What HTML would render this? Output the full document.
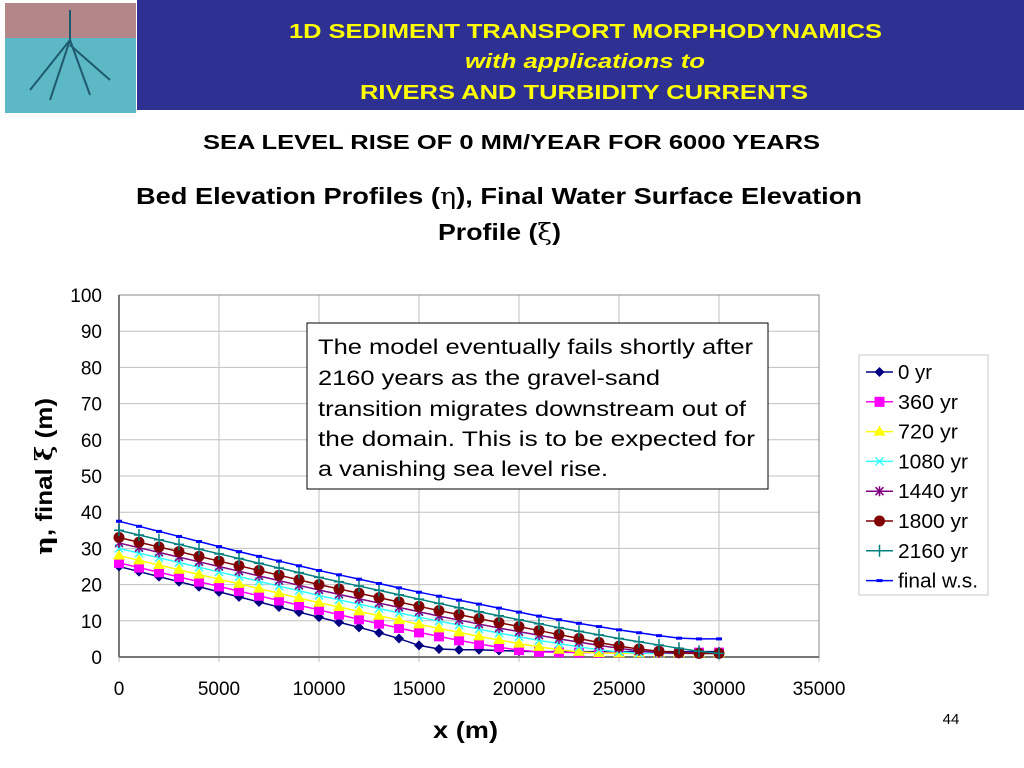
<!DOCTYPE html>
<html><head><meta charset="utf-8">
<style>
html,body{margin:0;padding:0;background:#fff;}
svg{display:block;}
</style></head>
<body>
<svg id="chart" width="1024" height="768" viewBox="0 0 1024 768" xmlns="http://www.w3.org/2000/svg" font-family="Liberation Sans, Arial, sans-serif">
  <rect x="5" y="3" width="131" height="110" fill="#5bb8c4"/>
  <rect x="5" y="3" width="131" height="35" fill="#c97a7a" opacity="0.8"/>
  <path d="M70 10 L70 40 L50 100 M70 40 L90 95 M70 40 L30 90 M70 45 L110 80" stroke="#1f5a70" stroke-width="2" fill="none"/>
  <rect x="137" y="0" width="887" height="110" fill="#2e3192"/>
  <text x="289" y="38" textLength="593" lengthAdjust="spacingAndGlyphs" fill="#ffff00" font-size="20" font-weight="bold">1D SEDIMENT TRANSPORT MORPHODYNAMICS</text>
  <text x="465" y="68" textLength="240" lengthAdjust="spacingAndGlyphs" fill="#ffff00" font-size="20" font-weight="bold" font-style="italic">with applications to</text>
  <text x="360" y="99" textLength="448" lengthAdjust="spacingAndGlyphs" fill="#ffff00" font-size="20" font-weight="bold">RIVERS AND TURBIDITY CURRENTS</text>
  <text x="203" y="149" textLength="617" lengthAdjust="spacingAndGlyphs" font-size="20" font-weight="bold">SEA LEVEL RISE OF 0 MM/YEAR FOR 6000 YEARS</text>
  <text x="136" y="204" textLength="726" lengthAdjust="spacingAndGlyphs" font-size="23" font-weight="bold">Bed Elevation Profiles (<tspan font-family="DejaVu Serif, serif" font-weight="normal">η</tspan>), Final Water Surface Elevation</text>
  <text x="438" y="240" textLength="123" lengthAdjust="spacingAndGlyphs" font-size="23" font-weight="bold">Profile (<tspan font-family="DejaVu Serif, serif" font-weight="normal">ξ</tspan>)</text>
  <g id="grid"></g>
  <g id="axes"></g>
  <g id="series"></g>
  <text transform="translate(52,555) rotate(-90)" textLength="157" lengthAdjust="spacingAndGlyphs" font-size="23" font-weight="bold"><tspan font-family="DejaVu Serif, serif">η</tspan>, final <tspan font-family="DejaVu Serif, serif">ξ</tspan> (m)</text>
  <text x="433" y="738" textLength="65" lengthAdjust="spacingAndGlyphs" font-size="23" font-weight="bold">x (m)</text>
  <text x="951" y="724" text-anchor="middle" font-size="15">44</text>
  <g>
    <rect x="307" y="323" width="461" height="166" fill="#fff" stroke="#000" stroke-width="1"/>
    <text font-size="21" fill="#000">
      <tspan x="318" y="354" textLength="435" lengthAdjust="spacingAndGlyphs">The model eventually fails shortly after</tspan>
      <tspan x="318" y="385" textLength="342" lengthAdjust="spacingAndGlyphs">2160 years as the gravel-sand</tspan>
      <tspan x="318" y="416" textLength="428" lengthAdjust="spacingAndGlyphs">transition migrates downstream out of</tspan>
      <tspan x="318" y="446" textLength="437" lengthAdjust="spacingAndGlyphs">the domain.  This is to be expected for</tspan>
      <tspan x="318" y="476" textLength="290" lengthAdjust="spacingAndGlyphs">a vanishing sea level rise.</tspan>
    </text>
  </g>
  <g id="legend"></g>
</svg>
<script>
const xTicks = [0,5000,10000,15000,20000,25000,30000,35000];
const yTicks = [0,10,20,30,40,50,60,70,80,90,100];
const xs = [0,1000,2000,3000,4000,5000,6000,7000,8000,9000,10000,11000,12000,13000,14000,15000,16000,17000,18000,19000,20000,21000,22000,23000,24000,25000,26000,27000,28000,29000,30000];
const yr0 = [25,23.6,22.2,20.8,19.4,18.0,16.6,15.2,13.8,12.4,11.0,9.6,8.2,6.7,5.1,3.2,2.2,2.0,2.0,1.8,1.6,1.5,1.5,1.5,1.5,1.5,1.5,1.5,1.5,1.5,1.5];
const yr360 = [26,24.7,23.4,22.1,20.8,19.5,18.2,16.9,15.6,14.3,13.0,11.7,10.4,9.2,8.0,6.8,5.7,4.6,3.6,2.7,1.9,1.4,1.3,1.2,1.2,1.2,1.2,1.2,1.2,1.2,1.2];
const yr720 = [28,26.7,25.4,24.1,22.8,21.5,20.2,18.9,17.6,16.3,15.0,13.8,12.6,11.4,10.2,9.0,7.9,6.8,5.7,4.7,3.7,2.8,2.0,1.4,1.1,1.0,1.0,1.0,1.0,1.0,1.0];
const yr1080 = [30,28.7,27.4,26.1,24.8,23.5,22.2,20.9,19.6,18.3,17.0,15.8,14.6,13.4,12.2,11.0,9.9,8.8,7.7,6.6,5.6,4.6,3.7,2.8,2.0,1.4,1.0,1.0,1.0,1.0,1.0];
const yr1440 = [31.5,30.2,28.9,27.6,26.3,25.0,23.7,22.4,21.1,19.8,18.5,17.3,16.1,14.9,13.7,12.5,11.3,10.2,9.1,8.0,7.0,6.0,5.0,4.1,3.2,2.4,1.7,1.2,1.0,1.0,1.0];
const yr1800 = [33,31.7,30.4,29.1,27.8,26.5,25.2,23.9,22.6,21.3,20.0,18.8,17.6,16.4,15.2,14.0,12.8,11.7,10.6,9.5,8.4,7.3,6.2,5.1,4.0,3.0,2.2,1.6,1.2,1.0,1.0];
const yr2160 = [35,33.7,32.4,31.1,29.8,28.5,27.2,25.9,24.6,23.3,22.0,20.8,19.6,18.4,17.2,16.0,14.8,13.6,12.5,11.4,10.3,9.2,8.1,7.1,6.1,5.1,4.2,3.3,2.4,1.6,1.0];
const finalWS = [37.5,36.1,34.7,33.3,31.9,30.5,29.1,27.8,26.5,25.2,23.9,22.7,21.5,20.3,19.1,17.9,16.8,15.7,14.6,13.5,12.4,11.3,10.3,9.3,8.4,7.5,6.7,5.9,5.2,5.0,5.0];

const X0=119, X1=819, Y0=657, Y1=295;
const sx = v => X0 + (v/35000)*(X1-X0);
const sy = v => Y0 - (v/100)*(Y0-Y1);
const NS='http://www.w3.org/2000/svg';
function mk(tag, attrs, parent){const e=document.createElementNS(NS,tag);for(const k in attrs)e.setAttribute(k,attrs[k]);parent.appendChild(e);return e;}

const grid=document.getElementById('grid'), axes=document.getElementById('axes');
yTicks.forEach(t=>{
  const l=mk('line',{x1:X0,x2:X1,y1:sy(t),y2:sy(t),stroke:'#c0c0c0','stroke-width':1},grid);
  
  
  const tk=mk('text',{x:X0-17,y:sy(t)+7,'text-anchor':'end','font-size':19},axes);
  tk.textContent=t;
  
  
});
xTicks.forEach(t=>{
  const l=mk('line',{x1:sx(t),x2:sx(t),y1:Y1,y2:Y0+5,stroke:'#c0c0c0','stroke-width':1},grid);
  
  
  const tk=mk('text',{x:sx(t),y:Y0+38,'text-anchor':'middle','font-size':19},axes);
  tk.textContent=t;
  
  
});
const frame=mk('rect',{x:X0,y:Y1,width:X1-X0,height:Y0-Y1,fill:'none',stroke:'#888','stroke-width':1},axes);


const xa=mk('line',{x1:X0,x2:X1,y1:Y0,y2:Y0,stroke:'#777','stroke-width':2},axes);


const ya=mk('line',{x1:X0,x2:X0,y1:Y1,y2:Y0,stroke:'#777','stroke-width':2},axes);



function marker(type,x,y,c,g){
  switch(type){
    case 'diamond': return mk('path',{d:`M${x} ${y-5}L${x+5} ${y}L${x} ${y+5}L${x-5} ${y}Z`,fill:c},g);
    case 'square': return mk('rect',{x:x-5,y:y-5,width:10,height:10,fill:c},g);
    case 'tri': return mk('path',{d:`M${x} ${y-6}L${x+6} ${y+4}L${x-6} ${y+4}Z`,fill:c},g);
    case 'x': return mk('path',{d:`M${x-4} ${y-4}L${x+4} ${y+4}M${x-4} ${y+4}L${x+4} ${y-4}`,stroke:c,'stroke-width':1.5},g);
    case 'star': return mk('path',{d:`M${x-4} ${y-4}L${x+4} ${y+4}M${x-4} ${y+4}L${x+4} ${y-4}M${x} ${y-5}L${x} ${y+5}`,stroke:c,'stroke-width':1.5},g);
    case 'circle': return mk('circle',{cx:x,cy:y,r:5.5,fill:c},g);
    case 'plus': return mk('path',{d:`M${x-5} ${y}L${x+5} ${y}M${x} ${y-6}L${x} ${y+6}`,stroke:c,'stroke-width':1.5},g);
    case 'dash': return mk('rect',{x:x-3,y:y-1.5,width:6,height:3,fill:c},g);
  }
}
const seriesDefs=[
  {name:'0 yr',data:yr0,color:'#000080',m:'diamond',id:'series-0-yr',w:34},
  {name:'360 yr',data:yr360,color:'#ff00ff',m:'square',id:'series-360-yr',w:60},
  {name:'720 yr',data:yr720,color:'#ffff00',m:'tri',id:'series-720-yr',w:60},
  {name:'1080 yr',data:yr1080,color:'#33ffff',m:'x',id:'series-1080-yr',w:70},
  {name:'1440 yr',data:yr1440,color:'#800080',m:'star',id:'series-1440-yr',w:70},
  {name:'1800 yr',data:yr1800,color:'#800000',m:'circle',id:'series-1800-yr',w:70},
  {name:'2160 yr',data:yr2160,color:'#008080',m:'plus',id:'series-2160-yr',w:70},
  {name:'final w.s.',data:finalWS,color:'#0000ff',m:'dash',id:'series-final-ws',w:80}
];
const sg=document.getElementById('series');
seriesDefs.forEach(s=>{
  const g=mk('g',{},sg);
  
  
  const pts=s.data.map((v,i)=>sx(xs[i])+','+sy(v)).join(' ');
  mk('polyline',{points:pts,fill:'none',stroke:s.color,'stroke-width':1.5},g);
  s.data.forEach((v,i)=>{marker(s.m,sx(xs[i]),sy(v),s.color,g);});
});

const lg=document.getElementById('legend');
const box=mk('rect',{x:859,y:355,width:129,height:240,fill:'#fff',stroke:'#c8c8c8','stroke-width':1},lg);


seriesDefs.forEach((s,i)=>{
  const y=372+i*29.8;
  const g=mk('g',{},lg);
  
  
  mk('line',{x1:866,x2:893,y1:y,y2:y,stroke:s.color,'stroke-width':1.5},g);
  marker(s.m,879.5,y,s.color,g);
  const t=mk('text',{x:898,y:y+7,'font-size':20,textLength:s.w,lengthAdjust:'spacingAndGlyphs'},g);
  t.textContent=s.name;
});
</script>
</body></html>
